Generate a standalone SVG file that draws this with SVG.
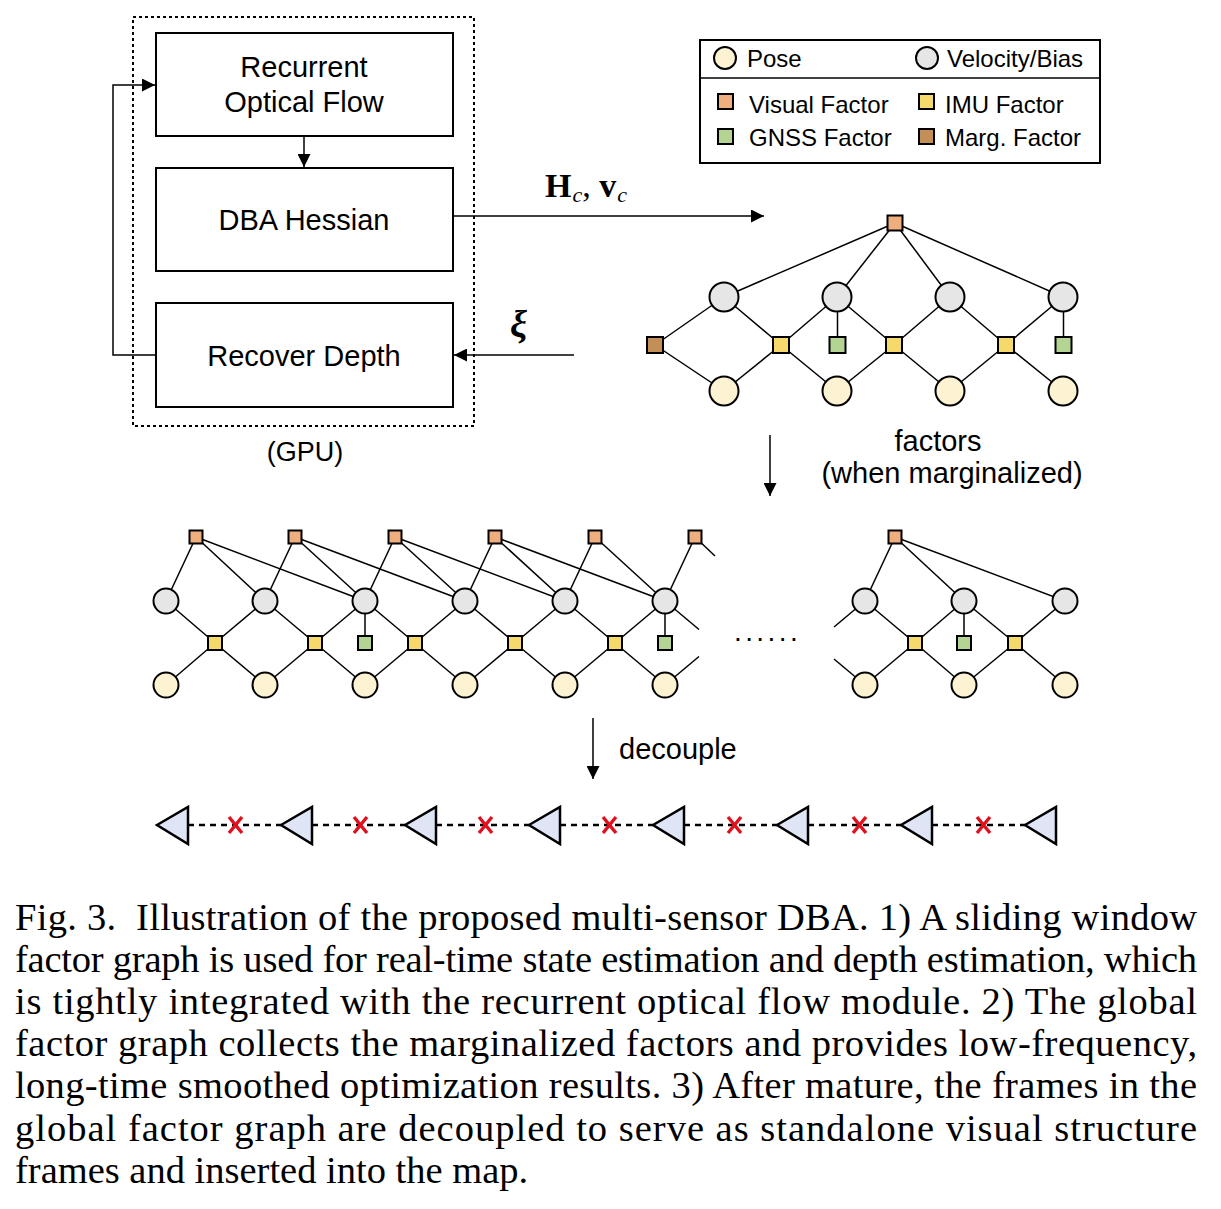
<svg xmlns="http://www.w3.org/2000/svg" width="1221" height="1209" viewBox="0 0 1221 1209">
<style>
.box{fill:#fff;stroke:#000;stroke-width:2}
.t{font-family:"Liberation Sans",Arial,sans-serif;fill:#000}
.e{stroke:#000;stroke-width:1.5;fill:none}
.ln{stroke:#000;stroke-width:1.5;fill:none}
.pose{fill:#fdf2d2;stroke:#000;stroke-width:2}
.vel{fill:#e6e6e6;stroke:#000;stroke-width:2}
.vis{fill:#efae7e;stroke:#000;stroke-width:2}
.imu{fill:#f5d96b;stroke:#000;stroke-width:2}
.gnss{fill:#b3d493;stroke:#000;stroke-width:2}
.marg{fill:#c48f57;stroke:#000;stroke-width:2}
.tri{fill:#dfe5f5;stroke:#000;stroke-width:2.5}
.x{stroke:#e0101e;stroke-width:3.4}
.dash{stroke:#000;stroke-width:2.5;stroke-dasharray:6 5}
.cap{font-family:"Liberation Serif","Times New Roman",serif;font-size:38.5px;fill:#000}
.math{font-family:"Liberation Serif","Times New Roman",serif;fill:#000}
</style>
<defs>
<marker id="arr" viewBox="0 0 10 10" refX="10" refY="5" markerWidth="13" markerHeight="13" markerUnits="userSpaceOnUse" orient="auto">
<path d="M0,0 L10,5 L0,10 z" fill="#000"/>
</marker>
</defs>

<!-- GPU block -->
<g id="gpu">
<rect x="133" y="17" width="341" height="409" fill="none" stroke="#000" stroke-width="2" stroke-dasharray="3 3"/>
<text class="t" x="305" y="461" font-size="27" text-anchor="middle">(GPU)</text>
</g>
<g id="node-flow">
<rect class="box" x="156" y="33" width="297" height="103"/>
<text class="t" x="304" y="77" font-size="29" text-anchor="middle">Recurrent</text>
<text class="t" x="304" y="112" font-size="29" text-anchor="middle">Optical Flow</text>
</g>
<g id="node-dba">
<rect class="box" x="156" y="168" width="297" height="103"/>
<text class="t" x="304" y="230" font-size="29" text-anchor="middle">DBA Hessian</text>
</g>
<g id="node-depth">
<rect class="box" x="156" y="303" width="297" height="104"/>
<text class="t" x="304" y="366" font-size="29" text-anchor="middle">Recover Depth</text>
</g>

<!-- legend -->
<g id="legend">
<rect x="700" y="40" width="400" height="123" fill="#fff" stroke="#000" stroke-width="2"/>
<line x1="700" y1="78" x2="1100" y2="78" stroke="#000" stroke-width="1.5"/>
<circle class="pose" cx="725" cy="58" r="11"/>
<text class="t" x="747" y="67" font-size="24">Pose</text>
<circle class="vel" cx="927" cy="58" r="11"/>
<text class="t" x="947" y="67" font-size="24">Velocity/Bias</text>
<rect class="vis" x="718" y="94" width="15" height="15"/>
<text class="t" x="749" y="113" font-size="24">Visual Factor</text>
<rect class="imu" x="919" y="94" width="15" height="15"/>
<text class="t" x="945" y="113" font-size="24">IMU Factor</text>
<rect class="gnss" x="718" y="129" width="15" height="15"/>
<text class="t" x="749" y="146" font-size="24">GNSS Factor</text>
<rect class="marg" x="919" y="129" width="15" height="15"/>
<text class="t" x="945" y="146" font-size="24">Marg. Factor</text>
</g>

<!-- connectors -->
<g id="connectors">
<line class="ln" x1="304" y1="136" x2="304" y2="167" marker-end="url(#arr)"/>
<polyline class="ln" points="156,355 113,355 113,85 155,85" marker-end="url(#arr)"/>
<line class="ln" x1="453" y1="216" x2="764" y2="216" marker-end="url(#arr)"/>
<line class="ln" x1="574" y1="355" x2="454" y2="355" marker-end="url(#arr)"/>
<line class="ln" x1="770" y1="435" x2="770" y2="496" marker-end="url(#arr)"/>
<line class="ln" x1="593" y1="718" x2="593" y2="779" marker-end="url(#arr)"/>
</g>
<g id="labels">
<text class="math" x="545" y="197" font-size="34"><tspan font-weight="bold">H</tspan><tspan font-style="italic" font-size="22" dy="5" dx="1">c</tspan><tspan dy="-5">, </tspan><tspan font-weight="bold">v</tspan><tspan font-style="italic" font-size="22" dy="5" dx="1">c</tspan></text>
<text class="math" x="510" y="337" font-size="38" font-style="italic" font-weight="bold">ξ</text>
<text class="t" x="938" y="451" font-size="29" text-anchor="middle">factors</text>
<text class="t" x="952" y="483" font-size="29" text-anchor="middle">(when marginalized)</text>
<text class="t" x="619" y="759" font-size="29">decouple</text>
</g>

<!-- top sliding-window factor graph -->
<g id="graph-window">
<g class="e">
<line x1="895" y1="223" x2="724" y2="297"/>
<line x1="895" y1="223" x2="837" y2="297"/>
<line x1="895" y1="223" x2="950" y2="297"/>
<line x1="895" y1="223" x2="1063" y2="297"/>
<line x1="655" y1="345" x2="724" y2="297"/>
<line x1="655" y1="345" x2="724" y2="391"/>
<line x1="781" y1="345" x2="724" y2="297"/>
<line x1="781" y1="345" x2="837" y2="297"/>
<line x1="781" y1="345" x2="724" y2="391"/>
<line x1="781" y1="345" x2="837" y2="391"/>
<line x1="894" y1="345" x2="837" y2="297"/>
<line x1="894" y1="345" x2="950" y2="297"/>
<line x1="894" y1="345" x2="837" y2="391"/>
<line x1="894" y1="345" x2="950" y2="391"/>
<line x1="1006" y1="345" x2="950" y2="297"/>
<line x1="1006" y1="345" x2="1063" y2="297"/>
<line x1="1006" y1="345" x2="950" y2="391"/>
<line x1="1006" y1="345" x2="1063" y2="391"/>
<line x1="837.5" y1="345" x2="837.5" y2="297"/>
<line x1="1063.5" y1="345" x2="1063.5" y2="297"/>
</g>
<g id="w-vel">
<circle class="vel" cx="724" cy="297" r="14.5"/>
<circle class="vel" cx="837" cy="297" r="14.5"/>
<circle class="vel" cx="950" cy="297" r="14.5"/>
<circle class="vel" cx="1063" cy="297" r="14.5"/>
</g>
<g id="w-pose">
<circle class="pose" cx="724" cy="391" r="14.5"/>
<circle class="pose" cx="837" cy="391" r="14.5"/>
<circle class="pose" cx="950" cy="391" r="14.5"/>
<circle class="pose" cx="1063" cy="391" r="14.5"/>
</g>
<g id="w-factors">
<rect class="vis" x="887.5" y="215.5" width="15" height="15"/>
<rect class="marg" x="647" y="337" width="16" height="16"/>
<rect class="imu" x="773" y="337" width="16" height="16"/>
<rect class="imu" x="886" y="337" width="16" height="16"/>
<rect class="imu" x="998" y="337" width="16" height="16"/>
<rect class="gnss" x="829.5" y="337" width="16" height="16"/>
<rect class="gnss" x="1055.5" y="337" width="16" height="16"/>
</g>
</g>

<!-- global factor graph (left part) -->
<g id="graph-global-left">
<g class="e">
<line x1="196" y1="537" x2="166" y2="601"/>
<line x1="196" y1="537" x2="265" y2="601"/>
<line x1="196" y1="537" x2="365" y2="601"/>
<line x1="295" y1="537" x2="265" y2="601"/>
<line x1="295" y1="537" x2="365" y2="601"/>
<line x1="295" y1="537" x2="465" y2="601"/>
<line x1="395" y1="537" x2="365" y2="601"/>
<line x1="395" y1="537" x2="465" y2="601"/>
<line x1="395" y1="537" x2="565" y2="601"/>
<line x1="495" y1="537" x2="465" y2="601"/>
<line x1="495" y1="537" x2="565" y2="601"/>
<line x1="495" y1="537" x2="665" y2="601"/>
<line x1="595" y1="537" x2="565" y2="601"/>
<line x1="595" y1="537" x2="665" y2="601"/>
<line x1="695" y1="537" x2="665" y2="601"/>
<line x1="695" y1="537" x2="715" y2="556"/>
<line x1="215" y1="643" x2="166" y2="601"/><line x1="215" y1="643" x2="265" y2="601"/><line x1="215" y1="643" x2="166" y2="685"/><line x1="215" y1="643" x2="265" y2="685"/>
<line x1="315" y1="643" x2="265" y2="601"/><line x1="315" y1="643" x2="365" y2="601"/><line x1="315" y1="643" x2="265" y2="685"/><line x1="315" y1="643" x2="365" y2="685"/>
<line x1="415" y1="643" x2="365" y2="601"/><line x1="415" y1="643" x2="465" y2="601"/><line x1="415" y1="643" x2="365" y2="685"/><line x1="415" y1="643" x2="465" y2="685"/>
<line x1="515" y1="643" x2="465" y2="601"/><line x1="515" y1="643" x2="565" y2="601"/><line x1="515" y1="643" x2="465" y2="685"/><line x1="515" y1="643" x2="565" y2="685"/>
<line x1="615" y1="643" x2="565" y2="601"/><line x1="615" y1="643" x2="665" y2="601"/><line x1="615" y1="643" x2="565" y2="685"/><line x1="615" y1="643" x2="665" y2="685"/>
<line x1="365" y1="643" x2="365" y2="601"/>
<line x1="665" y1="643" x2="665" y2="601"/>
<line x1="665" y1="601" x2="699" y2="629.5"/>
<line x1="665" y1="685" x2="699" y2="656.5"/>
</g>
<g id="g-vel">
<circle class="vel" cx="166" cy="601" r="12.5"/>
<circle class="vel" cx="265" cy="601" r="12.5"/>
<circle class="vel" cx="365" cy="601" r="12.5"/>
<circle class="vel" cx="465" cy="601" r="12.5"/>
<circle class="vel" cx="565" cy="601" r="12.5"/>
<circle class="vel" cx="665" cy="601" r="12.5"/>
</g>
<g id="g-pose">
<circle class="pose" cx="166" cy="685" r="12.5"/>
<circle class="pose" cx="265" cy="685" r="12.5"/>
<circle class="pose" cx="365" cy="685" r="12.5"/>
<circle class="pose" cx="465" cy="685" r="12.5"/>
<circle class="pose" cx="565" cy="685" r="12.5"/>
<circle class="pose" cx="665" cy="685" r="12.5"/>
</g>
<g id="g-factors">
<rect class="vis" x="189.5" y="530.5" width="13" height="13"/>
<rect class="vis" x="288.5" y="530.5" width="13" height="13"/>
<rect class="vis" x="388.5" y="530.5" width="13" height="13"/>
<rect class="vis" x="488.5" y="530.5" width="13" height="13"/>
<rect class="vis" x="588.5" y="530.5" width="13" height="13"/>
<rect class="vis" x="688.5" y="530.5" width="13" height="13"/>
<rect class="imu" x="208" y="636" width="14" height="14"/>
<rect class="imu" x="308" y="636" width="14" height="14"/>
<rect class="imu" x="408" y="636" width="14" height="14"/>
<rect class="imu" x="508" y="636" width="14" height="14"/>
<rect class="imu" x="608" y="636" width="14" height="14"/>
<rect class="gnss" x="358" y="636" width="14" height="14"/>
<rect class="gnss" x="658" y="636" width="14" height="14"/>
</g>
</g>

<text class="t" x="734" y="641" font-size="28" letter-spacing="3.4">......</text>

<!-- global factor graph (right part) -->
<g id="graph-global-right">
<g class="e">
<line x1="895" y1="537" x2="865" y2="601"/>
<line x1="895" y1="537" x2="964" y2="601"/>
<line x1="895" y1="537" x2="1065" y2="601"/>
<line x1="915" y1="643" x2="865" y2="601"/><line x1="915" y1="643" x2="964" y2="601"/><line x1="915" y1="643" x2="865" y2="685"/><line x1="915" y1="643" x2="964" y2="685"/>
<line x1="1015" y1="643" x2="964" y2="601"/><line x1="1015" y1="643" x2="1065" y2="601"/><line x1="1015" y1="643" x2="964" y2="685"/><line x1="1015" y1="643" x2="1065" y2="685"/>
<line x1="964" y1="643" x2="964" y2="601"/>
<line x1="865" y1="601" x2="834" y2="627"/>
<line x1="865" y1="685" x2="834" y2="659"/>
</g>
<circle class="vel" cx="865" cy="601" r="12.5"/>
<circle class="vel" cx="964" cy="601" r="12.5"/>
<circle class="vel" cx="1065" cy="601" r="12.5"/>
<circle class="pose" cx="865" cy="685" r="12.5"/>
<circle class="pose" cx="964" cy="685" r="12.5"/>
<circle class="pose" cx="1065" cy="685" r="12.5"/>
<rect class="vis" x="888.5" y="530.5" width="13" height="13"/>
<rect class="imu" x="908" y="636" width="14" height="14"/>
<rect class="imu" x="1008" y="636" width="14" height="14"/>
<rect class="gnss" x="957" y="636" width="14" height="14"/>
</g>

<!-- decoupled frames -->
<g id="frames">
<g class="dash">
<line x1="188" y1="825" x2="281" y2="825"/>
<line x1="312" y1="825" x2="405" y2="825"/>
<line x1="436" y1="825" x2="529" y2="825"/>
<line x1="560" y1="825" x2="653" y2="825"/>
<line x1="684" y1="825" x2="777" y2="825"/>
<line x1="808" y1="825" x2="901" y2="825"/>
<line x1="932" y1="825" x2="1025" y2="825"/>
</g>
<polygon class="tri" points="157,825 188,807 188,844"/>
<polygon class="tri" points="281,825 312,807 312,844"/>
<polygon class="tri" points="405,825 436,807 436,844"/>
<polygon class="tri" points="529,825 560,807 560,844"/>
<polygon class="tri" points="653,825 684,807 684,844"/>
<polygon class="tri" points="777,825 808,807 808,844"/>
<polygon class="tri" points="901,825 932,807 932,844"/>
<polygon class="tri" points="1025,825 1056,807 1056,844"/>
<g class="x">
<path d="M229,817 L242,833 M242,817 L229,833"/>
<path d="M354,817 L367,833 M367,817 L354,833"/>
<path d="M479,817 L492,833 M492,817 L479,833"/>
<path d="M603,817 L616,833 M616,817 L603,833"/>
<path d="M728,817 L741,833 M741,817 L728,833"/>
<path d="M853,817 L866,833 M866,817 L853,833"/>
<path d="M977,817 L990,833 M990,817 L977,833"/>
</g>
</g>

<!-- caption -->
<g id="caption">
<text class="cap" x="15" y="930" textLength="1182" lengthAdjust="spacing">Fig. 3.&#160; Illustration of the proposed multi-sensor DBA. 1) A sliding window</text>
<text class="cap" x="15" y="972" textLength="1182" lengthAdjust="spacing">factor graph is used for real-time state estimation and depth estimation, which</text>
<text class="cap" x="15" y="1014" textLength="1182" lengthAdjust="spacing">is tightly integrated with the recurrent optical flow module. 2) The global</text>
<text class="cap" x="15" y="1056" textLength="1182" lengthAdjust="spacing">factor graph collects the marginalized factors and provides low-frequency,</text>
<text class="cap" x="15" y="1098" textLength="1182" lengthAdjust="spacing">long-time smoothed optimization results. 3) After mature, the frames in the</text>
<text class="cap" x="15" y="1141" textLength="1182" lengthAdjust="spacing">global factor graph are decoupled to serve as standalone visual structure</text>
<text class="cap" x="15" y="1183">frames and inserted into the map.</text>
</g>
</svg>
